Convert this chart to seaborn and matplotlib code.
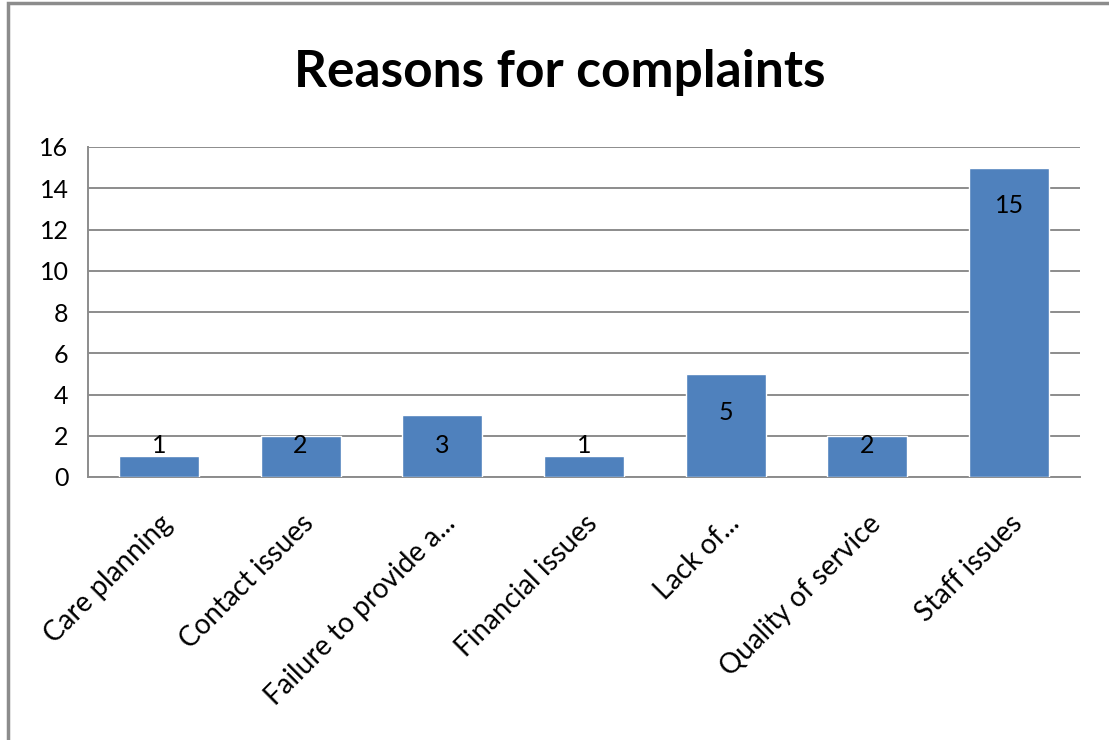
import numpy as np
import pandas as pd
import matplotlib.pyplot as plt
import seaborn as sns
from matplotlib.patches import Rectangle

# Chart data
categories = ["Care planning", "Contact issues", "Failure to provide a...", "Financial issues",
              "Lack of...", "Quality of service", "Staff issues"]
counts = [1, 2, 3, 1, 5, 2, 15]

df = pd.DataFrame({"Reason": categories, "Count": counts})

sns.set_style("white")
plt.rcParams["font.family"] = ["Lato", "DejaVu Sans"]
plt.rcParams["text.color"] = "black"

fig = plt.figure(figsize=(11.09, 7.40), dpi=100)
ax = fig.add_axes([88 / 1109, 1 - 477 / 740, (1080 - 88) / 1109, (477 - 147) / 740])

sns.barplot(data=df, x="Reason", y="Count", color="#4F81BD", saturation=1,
            width=0.565, ax=ax, zorder=3)

ax.set_ylim(0, 16)
ax.set_xlim(-0.5, len(categories) - 0.5)
ax.set_yticks(range(0, 17, 2))
ax.yaxis.grid(True, color="#8c8c8c", linewidth=1.4, zorder=0)
ax.set_axisbelow(True)
for side in ["top", "right"]:
    ax.spines[side].set_visible(False)
for side in ["left", "bottom"]:
    ax.spines[side].set_color("#8c8c8c")
    ax.spines[side].set_linewidth(1.4)
ax.tick_params(axis="both", length=0, colors="black")
ax.tick_params(axis="y", pad=14, labelsize=18)
ax.tick_params(axis="x", pad=24, labelsize=20)
ax.set_xlabel("")
ax.set_ylabel("")
plt.setp(ax.get_xticklabels(), rotation=45, ha="right", rotation_mode="anchor")

# value labels, inside end of bar but kept inside the plot area
for i, v in enumerate(counts):
    ax.text(i, max(v - 1.85, 1.55), str(v), ha="center", va="center", fontsize=18,
            color="black", zorder=4)

fig.text(560 / 1109, 1 - 72 / 740, "Reasons for complaints", ha="center", va="center",
         fontsize=37, fontweight="bold", color="black")

# outer chart border
fig.patches.append(Rectangle((8 / 1109, -0.1), 1.2, 1 - 3 / 740 + 0.1, transform=fig.transFigure,
                             fill=False, edgecolor="#8c8c8c", linewidth=2.5))

fig.savefig("out.png", dpi=100)
